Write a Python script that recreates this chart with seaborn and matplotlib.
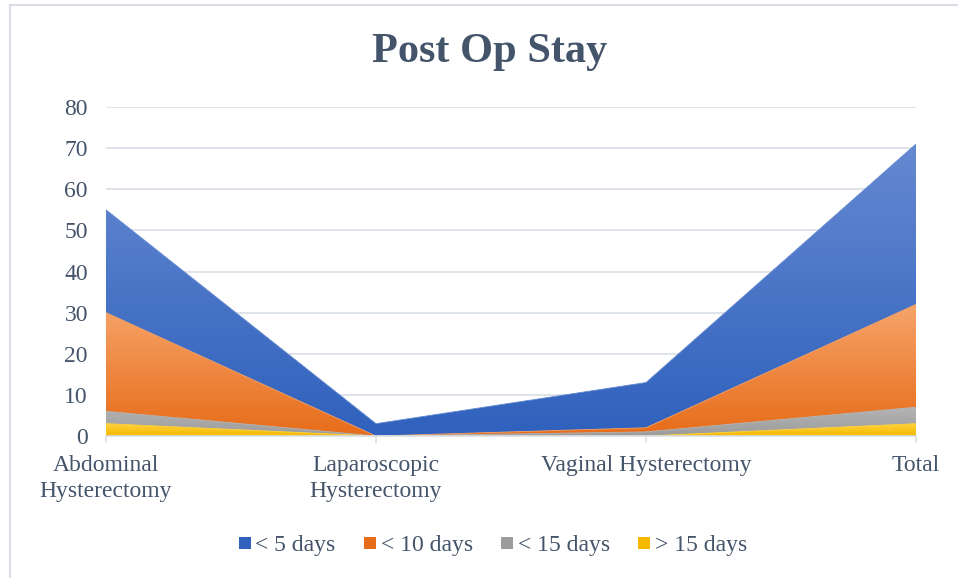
import matplotlib.pyplot as plt
import numpy as np
import pandas as pd
import seaborn as sns
from matplotlib.colors import LinearSegmentedColormap
from matplotlib.lines import Line2D

categories = ['Abdominal\nHysterectomy', 'Laparoscopic\nHysterectomy', 'Vaginal Hysterectomy', 'Total']
series_names = ['< 5 days', '< 10 days', '< 15 days', '> 15 days']
lt5 = [55, 3, 13, 71]
lt10 = [30, 0, 2, 32]
lt15 = [6, 0, 1, 7]
gt15 = [3, 0, 0, 3]

# (bottom colour, top colour) for the Excel-ish gradient fill
colours = {
    '< 5 days': ('#2F61BD', '#6589D1'),
    '< 10 days': ('#E76C19', '#F6A46A'),
    '< 15 days': ('#9C9C9C', '#B4B4B4'),
    '> 15 days': ('#F5BA00', '#FFD23F'),
}
text_col = '#44546A'
grid_col = '#D9DEE6'

df = pd.DataFrame({'x': np.arange(len(categories)),
                   '< 5 days': lt5, '< 10 days': lt10,
                   '< 15 days': lt15, '> 15 days': gt15})

sns.set_theme(style='white')
plt.rcParams['font.family'] = ['Liberation Serif', 'DejaVu Serif']

fig = plt.figure(figsize=(9.58, 5.78), dpi=100)
ax = fig.add_axes([106 / 958, 142 / 578, 810 / 958, 329 / 578])

for name in series_names:
    lo, hi = colours[name]
    sns.lineplot(data=df, x='x', y=name, ax=ax, color=hi, lw=0.6, legend=False)
    poly = ax.fill_between(df['x'], 0, df[name], color=lo, lw=0)
    ymax = max(df[name].max(), 0.5)
    cmap = LinearSegmentedColormap.from_list(name, [lo, hi])
    grad = np.linspace(0, 1, 256).reshape(-1, 1)
    im = ax.imshow(grad, cmap=cmap, origin='lower', aspect='auto',
                   extent=[0, len(categories) - 1, 0, ymax], zorder=poly.get_zorder())
    im.set_clip_path(poly.get_paths()[0], transform=ax.transData)
    poly.set_visible(False)

ax.set_xlim(0, len(categories) - 1)
ax.set_ylim(0, 80)
ax.set_yticks(range(0, 81, 10))
ax.set_xticks(df['x'])
ax.set_xticklabels(categories, linespacing=1.3)
ax.set_xlabel('')
ax.set_ylabel('')
ax.yaxis.grid(True, color=grid_col, lw=1.2)
ax.set_axisbelow(True)
for s in ['left', 'right', 'top']:
    ax.spines[s].set_visible(False)
ax.spines['bottom'].set_color(grid_col)
ax.spines['bottom'].set_linewidth(1.2)
ax.tick_params(axis='y', length=0, pad=13, labelsize=17, labelcolor=text_col)
ax.tick_params(axis='x', length=5, width=1.2, color=grid_col, pad=9,
               labelsize=17, labelcolor=text_col, bottom=True)

fig.text(0.511, 0.91, 'Post Op Stay', ha='center', va='center',
         fontsize=30.5, fontweight='bold', color=text_col)

handles = [Line2D([], [], marker='s', ls='', markersize=9,
                  markerfacecolor=colours[n][0], markeredgewidth=0) for n in series_names]
fig.legend(handles, series_names, loc='center', bbox_to_anchor=(0.512, 0.057),
           ncol=4, frameon=False, fontsize=17, labelcolor=text_col,
           handletextpad=0.0, columnspacing=1.0, handlelength=0.9)

# chart frame (top and left edges visible)
fig.add_artist(Line2D([10 / 958, 1], [1 - 5 / 578] * 2, color=grid_col, lw=1.5))
fig.add_artist(Line2D([10 / 958] * 2, [0, 1 - 5 / 578], color=grid_col, lw=1.5))

fig.savefig('out.png', dpi=100)
